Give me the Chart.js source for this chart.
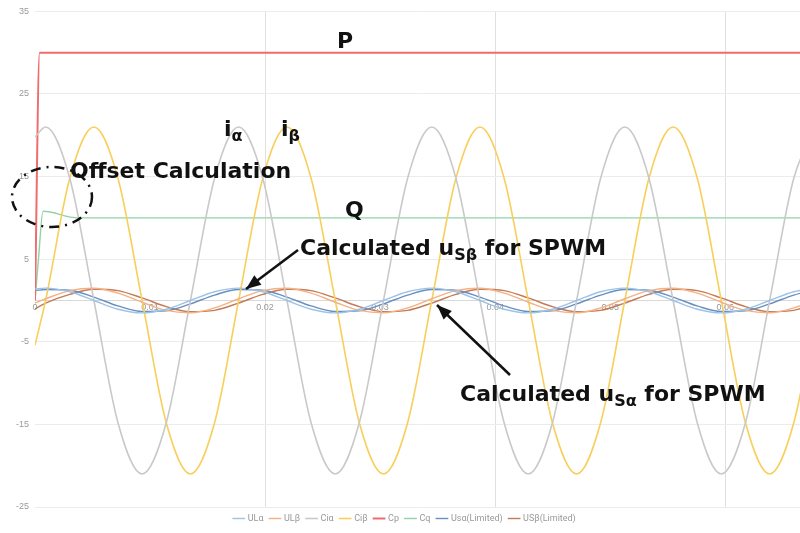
<!DOCTYPE html>
<html><head><meta charset="utf-8">
<script src="https://cdn.jsdelivr.net/npm/chart.js@4"></script>
<style>html,body{margin:0;background:#fff}#w{width:800px;height:533px}</style>
</head><body><div id="w"><canvas id="c"></canvas></div>
<script>
const TIME = [0, 0.00092, 0.00302, 0.00512, 0.00721, 0.00931, 0.01141, 0.01351, 0.01561, 0.01770, 0.01980, 0.02190, 0.02400, 0.02610, 0.02819, 0.03029, 0.03239, 0.03449, 0.03659, 0.03868, 0.04078, 0.04288, 0.04498, 0.04708, 0.04917, 0.05127, 0.05337, 0.05547, 0.05757, 0.05966, 0.06176, 0.06386, 0.06596, 0.06806];
const CI_ALPHA = [19.8, 21,14.8,0,-14.8,-21,-14.8,0,14.8, 21,14.8,0,-14.8,-21,-14.8,0,14.8, 21,14.8,0,-14.8,-21,-14.8,0,14.8, 21,14.8,0,-14.8,-21,-14.8,0,14.8, 21];
const CI_BETA = [-5.4, 0,14.8,21,14.8,0,-14.8,-21,-14.8, 0,14.8,21,14.8,0,-14.8,-21,-14.8, 0,14.8,21,14.8,0,-14.8,-21,-14.8, 0,14.8,21,14.8,0,-14.8,-21,-14.8, 0];
const UL_ALPHA = [1.4, 1.5,1.06,0,-1.06,-1.5,-1.06,0,1.06, 1.5,1.06,0,-1.06,-1.5,-1.06,0,1.06, 1.5,1.06,0,-1.06,-1.5,-1.06,0,1.06, 1.5,1.06,0,-1.06,-1.5,-1.06,0,1.06, 1.5];
const US_ALPHA = [1.2, 1.34,1.24,0.41,-0.66,-1.34,-1.24,-0.41,0.66, 1.34,1.24,0.41,-0.66,-1.34,-1.24,-0.41,0.66, 1.34,1.24,0.41,-0.66,-1.34,-1.24,-0.41,0.66, 1.34,1.24,0.41,-0.66,-1.34,-1.24,-0.41,0.66, 1.34];
const UL_BETA = [-0.3, 0.21,1.2,1.49,0.9,-0.21,-1.2,-1.49,-0.9, 0.21,1.2,1.49,0.9,-0.21,-1.2,-1.49,-0.9, 0.21,1.2,1.49,0.9,-0.21,-1.2,-1.49,-0.9, 0.21,1.2,1.49,0.9,-0.21,-1.2,-1.49,-0.9, 0.21];
const US_BETA = [-1.0, -0.31,0.74,1.36,1.19,0.31,-0.74,-1.36,-1.19, -0.31,0.74,1.36,1.19,0.31,-0.74,-1.36,-1.19, -0.31,0.74,1.36,1.19,0.31,-0.74,-1.36,-1.19, -0.31,0.74,1.36,1.19,0.31,-0.74,-1.36,-1.19, -0.31];
const CP_T = [0, 0.0004, 0.0680];
const CP = [0, 30, 30];
const CQ_T = [0, 0.0003, 0.0007, 0.0037, 0.0680];
const CQ = [0, 5, 10.8, 10, 10];
const Y_TICKS = [-25, -15, -5, 5, 15, 25, 35];

const pts = (t, v) => t.map((x, i) => ({x, y: v[i]}));
const ds = (label, t, v, color, w) => ({label, data: pts(t, v), borderColor: color, backgroundColor: color,
  borderWidth: w || 1.4, pointRadius: 0, cubicInterpolationMode: 'monotone', fill: false});

const annot = {
  id: 'annot',
  afterDraw(ch) {
    const c = ch.ctx;
    c.save();
    c.fillStyle = '#111'; c.strokeStyle = '#111';
    const F = (s) => `bold ${s}px "DejaVu Sans", sans-serif`;
    function txt(parts, x, y) {
      for (const [s, sub] of parts) {
        c.font = F(sub ? 16 : 22);
        c.fillText(s, x, y + (sub ? 5 : 0));
        x += c.measureText(s).width;
      }
    }
    c.textBaseline = 'alphabetic';
    txt([['P']], 337, 48);
    txt([['i'], ['α', 1]], 224, 136);
    txt([['i'], ['β', 1]], 281, 136);
    txt([['Offset Calculation']], 70, 178);
    txt([['Q']], 345, 217);
    txt([['Calculated u'], ['Sβ', 1], [' for SPWM']], 300, 255);
    txt([['Calculated u'], ['Sα', 1], [' for SPWM']], 460, 401);
    c.lineWidth = 2.5;
    c.setLineDash([10, 6, 2, 6]);
    c.beginPath(); c.ellipse(52, 197, 40, 30, 0, 0, Math.PI * 2); c.stroke();
    c.setLineDash([]);
    function arrow(x1, y1, x2, y2) {
      c.lineWidth = 2.5;
      c.beginPath(); c.moveTo(x1, y1); c.lineTo(x2, y2); c.stroke();
      const a = Math.atan2(y2 - y1, x2 - x1), L = 16, W = 0.38;
      c.beginPath(); c.moveTo(x2, y2);
      c.lineTo(x2 - L * Math.cos(a - W), y2 - L * Math.sin(a - W));
      c.lineTo(x2 - L * Math.cos(a + W), y2 - L * Math.sin(a + W));
      c.closePath(); c.fill();
    }
    arrow(298, 250, 246, 289);
    arrow(510, 375, 437, 305);
    c.restore();
  }
};

new Chart(document.getElementById('c'), {
  type: 'line',
  data: { datasets: [
    ds('ULα', TIME, UL_ALPHA, '#9dc3e6'),
    ds('ULβ', TIME, UL_BETA, '#f4b183'),
    ds('Ciα', TIME, CI_ALPHA, '#c9c9c9', 1.6),
    ds('Ciβ', TIME, CI_BETA, '#f7cf5a', 1.6),
    ds('Cp', CP_T, CP, '#f06b6b', 2),
    ds('Cq', CQ_T, CQ, '#8fd3a6', 1.4),
    ds('Usα(Limited)', TIME, US_ALPHA, '#6a8fbf'),
    ds('USβ(Limited)', TIME, US_BETA, '#c47a55'),
  ]},
  options: {
    responsive: true, maintainAspectRatio: false, animation: false,
    layout: { padding: { left: 10, right: 0, top: 10, bottom: 0 } },
    plugins: {
      tooltip: { enabled: false },
      legend: { position: 'bottom', labels: { usePointStyle: true, pointStyle: 'line', boxWidth: 14,
        color: '#999', font: { size: 9, family: 'Roboto' }, padding: 7 } }
    },
    scales: {
      x: { type: 'linear', min: 0, max: 0.0665, position: { y: 0 },
        afterBuildTicks: s => { s.ticks = [0,0.01,0.02,0.03,0.04,0.05,0.06].map(v => ({value: v})); },
        ticks: { color: '#999', font: { size: 9 }, padding: 2,
          callback: v => Math.abs(v) < 1e-9 ? '0' : +v.toFixed(2) },
        grid: { color: ctx => (Math.round(ctx.tick.value * 100) % 2 === 0 && ctx.tick.value > 0.001) ? '#e0e0e0' : 'rgba(0,0,0,0)',
          drawTicks: false },
        border: { color: '#d9d9d9' } },
      y: { min: -25, max: 35, afterBuildTicks: s => { s.ticks = Y_TICKS.map(v => ({value: v})); },
        ticks: { color: '#999', font: { size: 9 }, padding: 6 },
        grid: { color: '#ececec', drawTicks: false }, border: { display: false } }
    }
  },
  plugins: [annot]
});
</script></body></html>
